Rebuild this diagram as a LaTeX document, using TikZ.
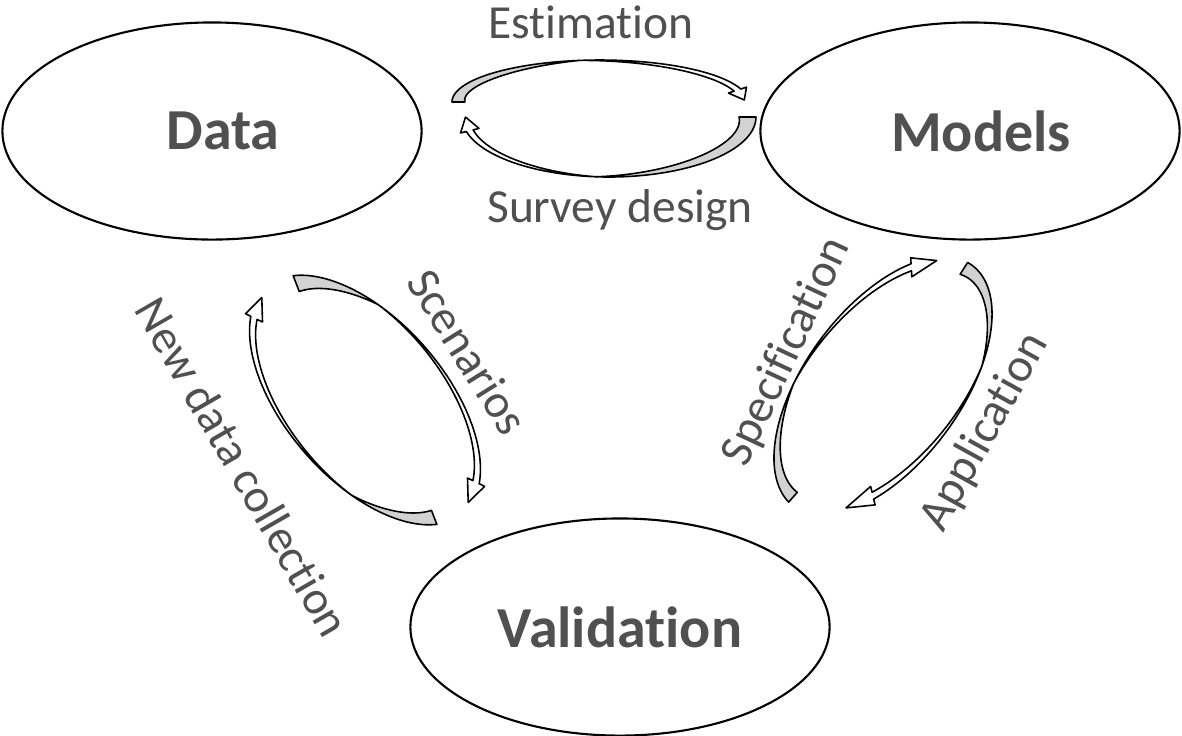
\documentclass[tikz,border=0pt]{standalone}
\usepackage{fontspec}
\setmainfont{Carlito}[Ligatures=NoCommon]
\usetikzlibrary{shapes.geometric, positioning}
\definecolor{TextGray}{RGB}{80, 80, 80}
\definecolor{ArrowGray}{RGB}{210, 210, 210}

% curved arrow round an ellipse: #1 centre, #2 turn, #3/#4 radii,
% #5 tail angle, #6 twist angle, #7 head angle, #8 tip angle, #9 tail width
\newcommand{\cyclearrow}[9]{%
  \begin{scope}[shift={#1}, rotate=#2]
    \draw[arrowside, fill=ArrowGray] plot[domain=#5:#6] ({#3*cos(\x)}, {#4*sin(\x)})
      -- plot[domain=#6:#5] ({(#3-#9*(#6-\x)/(#6-#5))*cos(\x)}, {(#4-#9*(#6-\x)/(#6-#5))*sin(\x)}) -- cycle;
    \draw[arrowside, fill=white] plot[domain=#6:#7] ({#3*cos(\x)}, {#4*sin(\x)})
      -- ({(#3+6)*cos(#7)}, {(#4+6)*sin(#7)})
      -- ({(#3-3.5)*cos(#8)}, {(#4-3.5)*sin(#8)})
      -- ({(#3-13)*cos(#7)}, {(#4-13)*sin(#7)})
      -- plot[domain=#7:#6] ({(#3-7*(\x-#6)/(#7-#6))*cos(\x)}, {(#4-7*(\x-#6)/(#7-#6))*sin(\x)}) -- cycle;
  \end{scope}}

\begin{document}
\begin{tikzpicture}[x=0.01cm, y=-0.01cm, samples=40,
    stage/.style={draw, ellipse, line width=0.6pt, minimum width=4.19cm, minimum height=2.17cm, font=\fontsize{16.5}{20}\selectfont\bfseries, text=TextGray},
    flowlabel/.style={font=\fontsize{13.5}{16}\selectfont, text=TextGray},
    arrowside/.style={line width=0.45pt, line join=round}]
    \useasboundingbox (0,0) rectangle (1182,735);
    \node[stage] (data) at (212,131) {\hspace*{0.22cm}Data};
    \node[stage] (models) at (970,131) {\hspace*{0.22cm}Models};
    \node[stage] (valid) at (620,627) {Validation};
    \coordinate (toploop) at (600,102);
    \coordinate (lowloop) at (609,117);
    \coordinate (leftloop) at (365,400);
    \coordinate (rightloop) at (883,386);
    % data <-> models
    \cyclearrow{(toploop)}{0}{148}{42}{180}{262}{342}{357}{13}
    \cyclearrow{(lowloop)}{0}{147}{60}{0}{95}{166}{180}{17}
    % data <-> validation
    \cyclearrow{(leftloop)}{-49}{150}{80}{200}{245}{337}{352}{17}
    \cyclearrow{(leftloop)}{-49}{150}{80}{20}{65}{157}{172}{15}
    % models <-> validation
    \cyclearrow{(rightloop)}{53.5}{150}{78}{185}{250}{320}{335}{13}
    \cyclearrow{(rightloop)}{53.5}{150}{78}{356}{420}{490}{505}{14}
    \node[flowlabel, anchor=base] (est) at (591,38) {Estimation};
    \node[flowlabel, anchor=base] (survey) at (620,222) {Survey design};
    \node[flowlabel, rotate=-58] (scen) at (468,352) {Scenarios};
    \node[flowlabel, rotate=-60] (newdata) at (243,467) {New data collection};
    \node[flowlabel, rotate=65] (spec) at (787,352) {Specification};
    \node[flowlabel, rotate=61] (appl) at (985,432) {Application};
\end{tikzpicture}
\end{document}
